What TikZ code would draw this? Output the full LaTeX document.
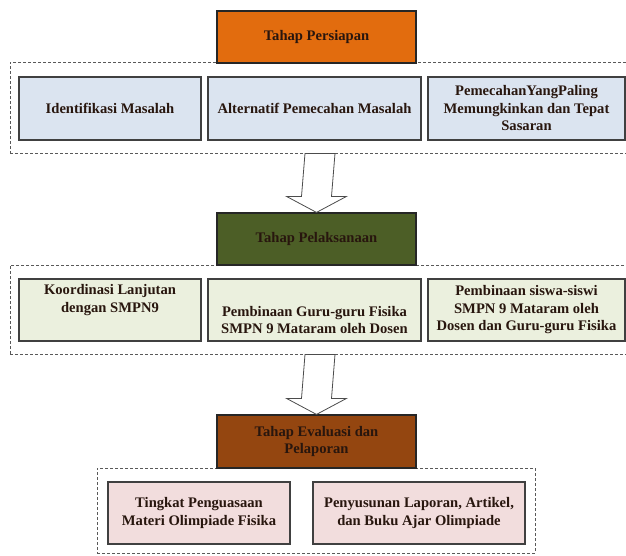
\documentclass[tikz,border=0pt]{standalone}
\usepackage{fontspec}
\setmainfont{Liberation Serif}
\usetikzlibrary{positioning, calc}

\definecolor{persorange}{RGB}{226,108,14}
\definecolor{pelgreen}{RGB}{76,94,38}
\definecolor{evalbrown}{RGB}{148,70,16}
\definecolor{bluefill}{RGB}{219,228,240}
\definecolor{greenfill}{RGB}{235,240,222}
\definecolor{pinkfill}{RGB}{242,221,221}
\definecolor{inktext}{RGB}{40,22,14}

\begin{document}
\begin{tikzpicture}[x=1pt, y=-1pt,
    every node/.style={font=\fontsize{14.6}{17.5}\selectfont\bfseries, text=inktext, align=center, inner sep=0pt},
    tahap/.style={draw=black!85, line width=1.2pt, minimum width=199pt, minimum height=52pt},
    item/.style={draw=black!75, line width=1.1pt, minimum height=62pt},
    frame/.style={draw=black!65, line width=0.8pt, dash pattern=on 3pt off 2pt},
    blok/.style={draw=black!70, fill=white, line width=0.8pt}]

    \useasboundingbox (0,0) rectangle (626,555);
    \clip (0,0) rectangle (626,555);

    %% FRAMES
    \node[frame, minimum width=620pt, minimum height=91pt] (frameA) at (320,107.5) {};
    \node[frame, minimum width=620pt, minimum height=89pt] (frameB) at (320,309.5) {};
    \node[frame, minimum width=438pt, minimum height=85pt] (frameC) at (316,510.5) {};

    %% TAHAP
    \node[tahap, fill=persorange] (persiapan) at (316.5,37) {Tahap Persiapan};
    \node[tahap, fill=pelgreen] (pelaksanaan) at (316.5,239) {Tahap Pelaksanaan};
    \node[tahap, fill=evalbrown, minimum height=53pt] (evaluasi) at (316.5,441.5) {Tahap Evaluasi dan\\Pelaporan};

    %% Persiapan items
    \node[item, fill=bluefill, minimum width=182pt, minimum height=63pt] (identifikasi) at (110,108.5) {Identifikasi Masalah};
    \node[item, fill=bluefill, minimum width=213pt, minimum height=63pt] (alternatif) at (314.5,108.5) {Alternatif Pemecahan Masalah};
    \node[item, fill=bluefill, minimum width=197pt, minimum height=63pt] (pemecahan) at (526.5,108.5) {PemecahanYangPaling\\Memungkinkan dan Tepat\\Sasaran};

    %% Pelaksanaan items
    \node[item, fill=greenfill, minimum width=182pt] (koordinasi) at (110,310) {Koordinasi Lanjutan\\dengan SMPN9\\\strut};
    \node[item, fill=greenfill, minimum width=213pt] (pembguru) at (314.5,310) {\strut\\Pembinaan Guru-guru Fisika\\SMPN 9 Mataram oleh Dosen};
    \node[item, fill=greenfill, minimum width=197pt] (pembsiswa) at (526.5,310) {Pembinaan siswa-siswi\\SMPN 9 Mataram oleh\\Dosen dan Guru-guru  Fisika};

    %% Evaluasi items
    \node[item, fill=pinkfill, minimum width=182pt] (tingkat) at (199,513) {Tingkat Penguasaan\\Materi Olimpiade Fisika};
    \node[item, fill=pinkfill, minimum width=212pt] (penyusunan) at (419,513) {Penyusunan Laporan, Artikel,\\dan Buku Ajar Olimpiade};

    %% BLOCK ARROWS
    \draw[blok] ($(frameA.south)+(-15,0)$) -- ($(pelaksanaan.north)+(-15,-16)$) -- ($(pelaksanaan.north)+(-30,-16)$)
        -- (pelaksanaan.north) -- ($(pelaksanaan.north)+(30,-16)$) -- ($(pelaksanaan.north)+(15,-16)$)
        -- ($(frameA.south)+(15,0)$) -- cycle;
    \draw[blok] ($(frameB.south)+(-15,0)$) -- ($(evaluasi.north)+(-15,-16)$) -- ($(evaluasi.north)+(-30,-16)$)
        -- (evaluasi.north) -- ($(evaluasi.north)+(30,-16)$) -- ($(evaluasi.north)+(15,-16)$)
        -- ($(frameB.south)+(15,0)$) -- cycle;

\end{tikzpicture}
\end{document}
